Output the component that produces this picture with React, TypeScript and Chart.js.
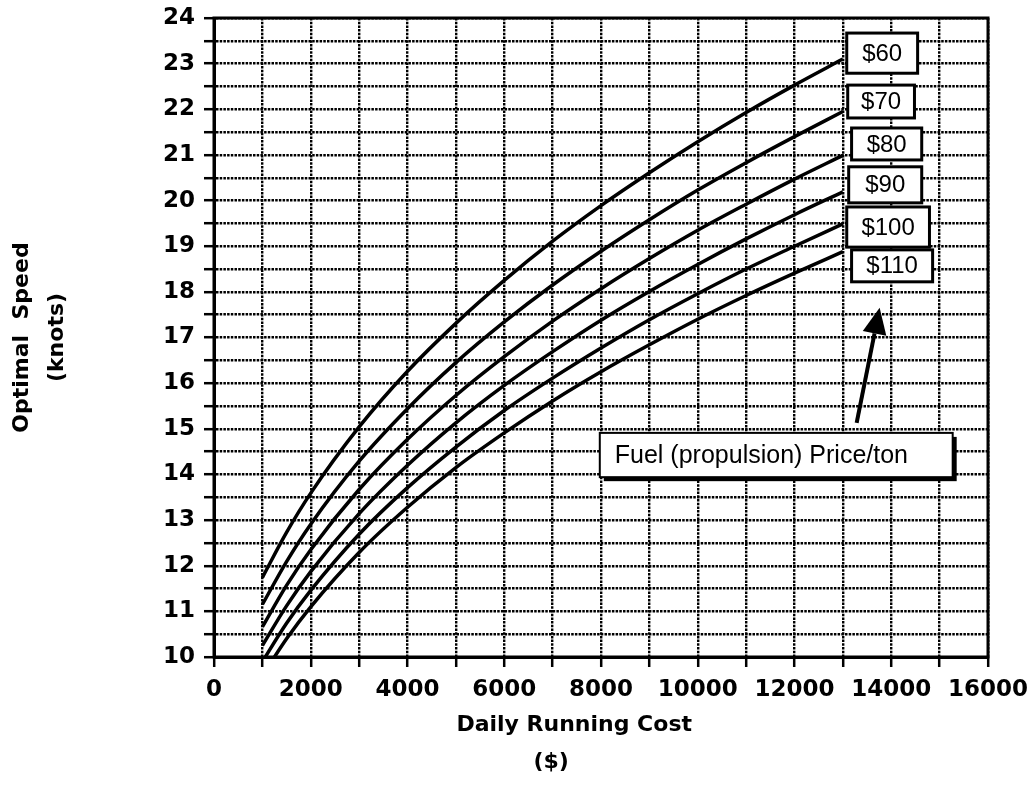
import React, { useEffect, useRef } from 'react';
import { Chart, registerables } from 'chart.js';

Chart.register(...registerables);

// Daily running cost ($) sample points
const costs = [1000, 1500, 2000, 3000, 4000, 5000, 6000, 7000, 8000, 9000, 10000, 11000, 12000, 13000];

// Optimal speed (knots) for each fuel price per ton
const speed60 = [11.74, 12.73, 13.59, 15.04, 16.26, 17.31, 18.25, 19.11, 19.89, 20.61, 21.29, 21.93, 22.53, 23.1];
const speed70 = [11.15, 12.09, 12.91, 14.29, 15.44, 16.45, 17.34, 18.15, 18.89, 19.58, 20.23, 20.83, 21.4, 21.95];
const speed80 = [10.66, 11.57, 12.35, 13.67, 14.77, 15.73, 16.58, 17.36, 18.07, 18.73, 19.35, 19.92, 20.47, 20.99];
const speed90 = [10.25, 11.12, 11.87, 13.14, 14.2, 15.13, 15.95, 16.69, 17.38, 18.01, 18.6, 19.16, 19.69, 20.19];
const speed100 = [9.9, 10.74, 11.46, 12.69, 13.71, 14.6, 15.4, 16.11, 16.77, 17.39, 17.96, 18.5, 19.0, 19.49];
const speed110 = [9.59, 10.4, 11.1, 12.29, 13.28, 14.15, 14.91, 15.61, 16.25, 16.84, 17.4, 17.92, 18.41, 18.88];

const priceLabels = ['$60', '$70', '$80', '$90', '$100', '$110'];
const seriesList = [speed60, speed70, speed80, speed90, speed100, speed110];

const xTitle = ['Daily Running Cost       ', '($)             '];
const yTitle = ['Optimal  Speed', '(knots)'];
const noteText = 'Fuel (propulsion) Price/ton';

// label box extents in data units [x0, x1, yLow, yHigh]
const priceBoxes = [
  [13080, 14545, 22.79, 23.67],
  [13100, 14480, 21.81, 22.53],
  [13180, 14630, 20.89, 21.59],
  [13120, 14630, 19.95, 20.74],
  [13080, 14790, 18.98, 19.86],
  [13180, 14855, 18.22, 18.92],
];
const noteBox = [7975, 15270, 13.94, 14.91];
const arrowFrom = [13285, 15.13];
const arrowTo = [13760, 17.65];

const tickFont = { family: 'DejaVu Sans', size: 23, weight: 'bold' as const };
const titleFont = { family: 'DejaVu Sans', size: 22, weight: 'bold' as const };

const annotPlugin = {
  id: 'annot',
  afterDatasetsDraw(chart: any) {
    const { ctx, chartArea, scales } = chart;
    const x = scales.x;
    const y = scales.y;
    ctx.save();
    // frame
    ctx.lineWidth = 3;
    ctx.strokeStyle = '#000';
    ctx.setLineDash([]);
    ctx.strokeRect(chartArea.left, chartArea.top, chartArea.right - chartArea.left, chartArea.bottom - chartArea.top);

    // price boxes
    priceBoxes.forEach((b, i) => {
      const l = x.getPixelForValue(b[0]);
      const r = x.getPixelForValue(b[1]);
      const t = y.getPixelForValue(b[3]);
      const bt = y.getPixelForValue(b[2]);
      ctx.fillStyle = '#fff';
      ctx.fillRect(l, t, r - l, bt - t);
      ctx.lineWidth = 3;
      ctx.strokeStyle = '#000';
      ctx.strokeRect(l, t, r - l, bt - t);
      ctx.fillStyle = '#000';
      ctx.font = '24px "Liberation Sans"';
      ctx.textAlign = 'center';
      ctx.textBaseline = 'middle';
      ctx.fillText(priceLabels[i], (l + r) / 2, (t + bt) / 2 + 1);
    });

    // note box with shadow
    {
      const l = x.getPixelForValue(noteBox[0]);
      const r = x.getPixelForValue(noteBox[1]);
      const t = y.getPixelForValue(noteBox[3]);
      const bt = y.getPixelForValue(noteBox[2]);
      ctx.fillStyle = '#000';
      ctx.fillRect(l + 4, t + 4, r - l, bt - t);
      ctx.fillStyle = '#fff';
      ctx.fillRect(l, t, r - l, bt - t);
      ctx.lineWidth = 2;
      ctx.strokeStyle = '#000';
      ctx.strokeRect(l, t, r - l, bt - t);
      ctx.fillStyle = '#000';
      ctx.font = '25px "Liberation Sans"';
      ctx.textAlign = 'left';
      ctx.textBaseline = 'middle';
      ctx.fillText(noteText, l + 15, (t + bt) / 2 + 1);
    }

    // arrow
    {
      const x0 = x.getPixelForValue(arrowFrom[0]);
      const y0 = y.getPixelForValue(arrowFrom[1]);
      const x1 = x.getPixelForValue(arrowTo[0]);
      const y1 = y.getPixelForValue(arrowTo[1]);
      const ang = Math.atan2(y1 - y0, x1 - x0);
      const headLen = 26;
      const headHalf = 12;
      const bx = x1 - headLen * Math.cos(ang);
      const by = y1 - headLen * Math.sin(ang);
      ctx.lineWidth = 4;
      ctx.strokeStyle = '#000';
      ctx.beginPath();
      ctx.moveTo(x0, y0);
      ctx.lineTo(bx, by);
      ctx.stroke();
      ctx.fillStyle = '#000';
      ctx.beginPath();
      ctx.moveTo(x1, y1);
      ctx.lineTo(bx + headHalf * Math.sin(ang), by - headHalf * Math.cos(ang));
      ctx.lineTo(bx - headHalf * Math.sin(ang), by + headHalf * Math.cos(ang));
      ctx.closePath();
      ctx.fill();
    }
    ctx.restore();
  },
};

const gridOpts = {
  color: '#000',
  lineWidth: 2.4,
  tickLength: 10,
  tickColor: '#000',
  tickWidth: 2.5,
  tickBorderDash: [],
};

export default function App() {
  const canvasRef = useRef<HTMLCanvasElement | null>(null);

  useEffect(() => {
    const canvas = canvasRef.current;
    if (!canvas) return;
    const chart = new Chart(canvas, {
      type: 'line',
      data: {
        datasets: seriesList.map((s, i) => ({
          label: priceLabels[i],
          data: costs.map((c, j) => ({ x: c, y: s[j] })),
          borderColor: '#000',
          borderWidth: 3.5,
          pointRadius: 0,
          fill: false,
          cubicInterpolationMode: 'monotone' as const,
        })),
      },
      options: {
        animation: false,
        responsive: false,
        devicePixelRatio: 1,
        layout: { padding: { top: 18, right: 44, left: 0, bottom: 0 } },
        plugins: { legend: { display: false }, tooltip: { enabled: false } },
        scales: {
          x: {
            type: 'linear',
            min: 0,
            max: 16000,
            afterFit: (s: any) => {
              s.height = 130;
              s.paddingLeft = 0;
              s.paddingRight = 0;
            },
            ticks: {
              stepSize: 1000,
              maxTicksLimit: 100,
              autoSkip: false,
              maxRotation: 0,
              padding: 9,
              color: '#000',
              font: tickFont,
              callback: (v: any) => (Number(v) % 2000 === 0 ? String(v) : ''),
            },
            grid: gridOpts,
            border: { display: true, color: '#000', width: 3, dash: [2.5, 1.2] },
            title: {
              display: true,
              text: xTitle,
              color: '#000',
              font: { ...titleFont, lineHeight: 1.68 },
              padding: { top: 0, bottom: 6.5 },
            },
          },
          y: {
            type: 'linear',
            min: 10,
            max: 24,
            afterFit: (s: any) => {
              s.width = 214;
              s.paddingTop = 0;
              s.paddingBottom = 0;
            },
            ticks: {
              stepSize: 0.5,
              maxTicksLimit: 100,
              autoSkip: false,
              padding: 9,
              color: '#000',
              font: tickFont,
              callback: (v: any) => (Number.isInteger(Number(v)) ? String(v) : ''),
            },
            grid: gridOpts,
            border: { display: true, color: '#000', width: 3, dash: [2.5, 1.2] },
            title: {
              display: true,
              text: yTitle,
              color: '#000',
              font: { ...titleFont, lineHeight: 1.59 },
              padding: { top: 4.5, bottom: 0 },
            },
          },
        },
      },
      plugins: [annotPlugin],
    } as any);
    return () => chart.destroy();
  }, []);

  return (
    <div style={{ position: 'absolute', left: 0, top: 0, width: 1032, height: 787, background: '#fff' }}>
      <canvas ref={canvasRef} width={1032} height={787} style={{ display: 'block' }} />
    </div>
  );
}
